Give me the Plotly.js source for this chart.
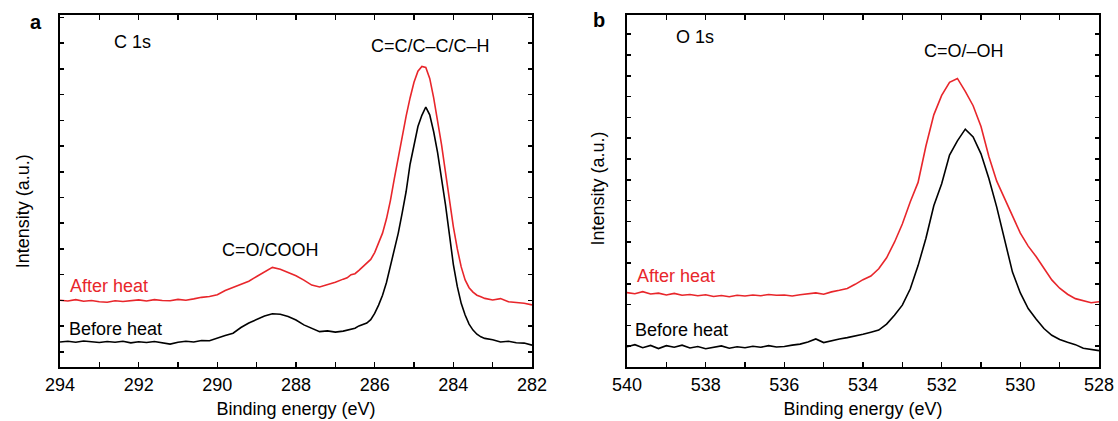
<!DOCTYPE html>
<html>
<head>
<meta charset="utf-8">
<script src="https://cdn.plot.ly/plotly-3.0.1.min.js"></script>
<style>html,body{margin:0;padding:0;background:#fff;}#chart{width:1118px;height:421px;}</style>
</head>
<body>
<div id="chart"></div>
<script>
// ---- Panel a: C 1s ----
const cEnergy = [294.0,293.8,293.6,293.4,293.2,293.0,292.8,292.6,292.4,292.2,292.0,291.8,291.6,291.4,291.2,291.0,290.8,290.6,290.4,290.2,290.0,289.8,289.6,289.4,289.2,289.0,288.8,288.6,288.4,288.2,288.0,287.8,287.6,287.4,287.2,287.0,286.8,
286.7,286.6,286.5,286.4,286.3,286.2,286.1,286.0,285.9,285.8,285.7,285.6,285.5,285.4,285.3,285.2,285.1,285.0,284.9,284.8,284.7,284.6,284.5,284.4,284.3,284.2,284.1,284.0,283.9,283.8,283.7,283.6,283.5,283.4,283.3,283.2,
283.0,282.8,282.6,282.4,282.2,282.0];
const cBefore = [9.6,9.9,9.5,10.0,9.7,9.4,9.8,9.5,9.9,9.3,9.7,9.4,9.8,9.2,8.8,9.5,9.9,9.6,10.2,10.1,11.2,12.1,13.0,15.2,16.9,18.3,19.6,20.5,20.3,19.4,18.1,16.2,14.8,13.6,13.9,13.4,13.8,
14.2,14.6,14.9,15.8,16.4,16.9,18.2,20.6,23.8,27.6,32.5,38.6,44.5,51.5,59.3,67.5,78.0,86.0,92.5,96.8,100.0,97.0,90.5,82.5,73.0,62.5,51.0,39.5,31.0,24.5,20.0,16.5,14.2,12.6,11.6,11.0,
10.5,9.6,9.9,9.3,9.2,8.4];
const cAfter = [25.7,25.4,25.9,25.3,25.6,25.1,24.9,25.5,25.2,25.6,25.8,25.4,25.9,25.6,25.5,26.0,25.7,26.2,26.8,27.1,27.8,29.4,30.6,32.1,33.0,34.8,36.4,38.3,37.6,36.5,35.1,33.4,31.5,30.8,31.6,32.6,33.8,
34.3,35.5,35.9,37.2,38.6,39.9,41.4,44.0,47.5,51.5,57.0,64.0,72.5,81.0,89.0,96.5,103.5,109.5,113.8,115.6,115.2,111.0,103.5,95.0,85.5,75.0,64.5,54.0,45.5,38.5,33.5,30.5,28.8,27.6,27.0,26.4,
25.8,26.3,25.1,24.9,24.5,23.9];
const cTickVals = [294,293,292,291,290,289,288,287,286,285,284,283,282];
const cTickText = ['294','','292','','290','','288','','286','','284','','282'];

// ---- Panel b: O 1s ----
const oEnergy = [540.0,539.8,539.6,539.4,539.2,539.0,538.8,538.6,538.4,538.2,538.0,537.8,537.6,537.4,537.2,537.0,536.8,536.6,536.4,536.2,536.0,535.8,535.6,535.4,535.2,535.0,534.8,534.6,534.4,534.2,
534.0,533.8,533.6,533.4,533.2,533.0,532.8,532.6,532.4,532.2,532.0,531.8,531.6,531.4,531.2,531.0,530.8,530.6,530.4,530.2,530.0,529.8,529.6,529.4,529.2,529.0,528.8,528.6,528.4,528.2,528.0];
const oBefore = [7.8,8.6,7.4,8.3,7.1,8.2,7.6,8.4,7.3,7.9,7.0,7.5,8.1,7.2,7.8,7.4,8.0,7.6,8.2,7.7,7.9,8.4,8.8,9.6,10.8,9.4,10.2,10.8,11.3,11.9,
12.6,13.4,14.2,16.5,19.9,23.8,30.0,39.0,49.5,62.0,70.5,81.5,87.0,91.5,88.5,82.0,72.5,61.5,49.5,36.5,28.5,22.5,18.5,14.8,12.2,10.6,9.5,8.6,7.2,6.8,6.3];
const oAfter = [28.6,28.2,29.0,28.1,28.4,27.7,28.3,27.6,27.9,27.4,27.8,27.1,27.5,27.0,27.6,27.3,27.7,27.4,27.9,27.6,27.7,27.3,27.8,28.1,28.5,28.0,28.9,29.5,30.2,31.8,
33.6,35.0,37.8,42.0,48.0,55.0,63.5,71.0,85.0,97.0,104.5,109.5,111.0,106.0,100.5,92.5,81.0,71.5,65.0,58.0,51.5,46.5,42.5,38.0,33.5,30.3,28.0,26.3,25.5,24.7,25.1];
const oTickVals = [540,539,538,537,536,535,534,533,532,531,530,529,528];
const oTickText = ['540','','538','','536','','534','','532','','530','','528'];

const RED = '#e8262b';
const BLACK = '#000000';
const FONT = 'Liberation Sans, Arial, Helvetica, sans-serif';

const traces = [
  {x: cEnergy, y: cBefore, xaxis: 'x', yaxis: 'y', mode: 'lines', line: {color: BLACK, width: 1.6}, name: 'Before heat'},
  {x: cEnergy, y: cAfter, xaxis: 'x', yaxis: 'y', mode: 'lines', line: {color: RED, width: 1.6}, name: 'After heat'},
  {x: oEnergy, y: oBefore, xaxis: 'x2', yaxis: 'y2', mode: 'lines', line: {color: BLACK, width: 1.6}, name: 'Before heat'},
  {x: oEnergy, y: oAfter, xaxis: 'x2', yaxis: 'y2', mode: 'lines', line: {color: RED, width: 1.6}, name: 'After heat'}
];

const W = 1118;
function xAxis(dom, rng, tv, tt, anchor) {
  return {
    domain: dom, range: rng, anchor: anchor,
    tickmode: 'array', tickvals: tv, ticktext: tt,
    ticks: 'inside', ticklen: 5, tickwidth: 1.5, tickcolor: '#000',
    showline: true, linewidth: 2, linecolor: '#000', mirror: 'ticks',
    showgrid: false, zeroline: false,
    tickfont: {family: FONT, size: 18, color: '#000'},
    title: {text: 'Binding energy (eV)', font: {family: FONT, size: 18, color: '#000'}, standoff: 9}
  };
}
function yAxis(t0, dt, anchor) {
  return {
    domain: [0, 1], range: [0, 135.4], anchor: anchor,
    tickmode: 'linear', tick0: t0, dtick: dt,
    ticks: 'inside', ticklen: 4, tickwidth: 1.5, tickcolor: '#000',
    showticklabels: false,
    showline: true, linewidth: 2, linecolor: '#000', mirror: 'ticks',
    showgrid: false, zeroline: false
  };
}

const txt = (s, c) => ({family: FONT, size: s, color: c || '#000'});
const annotations = [
  {text: '<b>a</b>', xref: 'paper', yref: 'paper', x: 36 / W, y: (367 - 22) / 352, showarrow: false, font: txt(20), xanchor: 'center', yanchor: 'middle'},
  {text: '<b>b</b>', xref: 'paper', yref: 'paper', x: 599 / W, y: (367 - 20) / 352, showarrow: false, font: txt(20), xanchor: 'center', yanchor: 'middle'},
  {text: 'Intensity (a.u.)', xref: 'paper', yref: 'paper', x: 22.5 / W, y: (367 - 211.7) / 352, textangle: -90, showarrow: false, font: txt(18), xanchor: 'center', yanchor: 'middle'},
  {text: 'Intensity (a.u.)', xref: 'paper', yref: 'paper', x: 597.6 / W, y: (367 - 189) / 352, textangle: -90, showarrow: false, font: txt(18), xanchor: 'center', yanchor: 'middle'},
  {text: 'C 1s', xref: 'x', yref: 'y', x: 292.68, y: 125.1, showarrow: false, font: txt(18), xanchor: 'left', yanchor: 'middle'},
  {text: 'C=C/C\u2013C/C\u2013H', xref: 'x', yref: 'y', x: 284.57, y: 123.5, showarrow: false, font: txt(18), xanchor: 'center', yanchor: 'middle'},
  {text: 'C=O/COOH', xref: 'x', yref: 'y', x: 288.66, y: 45.0, showarrow: false, font: txt(18), xanchor: 'center', yanchor: 'middle'},
  {text: 'After heat', xref: 'x', yref: 'y', x: 293.80, y: 31.2, showarrow: false, font: txt(18, RED), xanchor: 'left', yanchor: 'middle'},
  {text: 'Before heat', xref: 'x', yref: 'y', x: 293.82, y: 14.6, showarrow: false, font: txt(18), xanchor: 'left', yanchor: 'middle'},
  {text: 'O 1s', xref: 'x2', yref: 'y2', x: 538.80, y: 126.8, showarrow: false, font: txt(18), xanchor: 'left', yanchor: 'middle'},
  {text: 'C=O/\u2013OH', xref: 'x2', yref: 'y2', x: 531.44, y: 121.7, showarrow: false, font: txt(18), xanchor: 'center', yanchor: 'middle'},
  {text: 'After heat', xref: 'x2', yref: 'y2', x: 539.80, y: 35.0, showarrow: false, font: txt(18, RED), xanchor: 'left', yanchor: 'middle'},
  {text: 'Before heat', xref: 'x2', yref: 'y2', x: 539.84, y: 14.2, showarrow: false, font: txt(18), xanchor: 'left', yanchor: 'middle'}
];

const layout = {
  width: 1118, height: 421,
  margin: {l: 0, r: 0, t: 15, b: 54, pad: 0},
  paper_bgcolor: '#fff', plot_bgcolor: '#fff',
  showlegend: false,
  font: {family: FONT, size: 18, color: '#000'},
  xaxis: xAxis([60 / W, 532 / W], [294, 282], cTickVals, cTickText, 'y'),
  yaxis: yAxis(5.8, 9.9, 'x'),
  xaxis2: xAxis([627 / W, 1099 / W], [540, 528], oTickVals, oTickText, 'y2'),
  yaxis2: yAxis(8, 8, 'x2'),
  annotations: annotations
};

Plotly.newPlot('chart', traces, layout, {displayModeBar: false, staticPlot: true});
</script>
</body>
</html>
